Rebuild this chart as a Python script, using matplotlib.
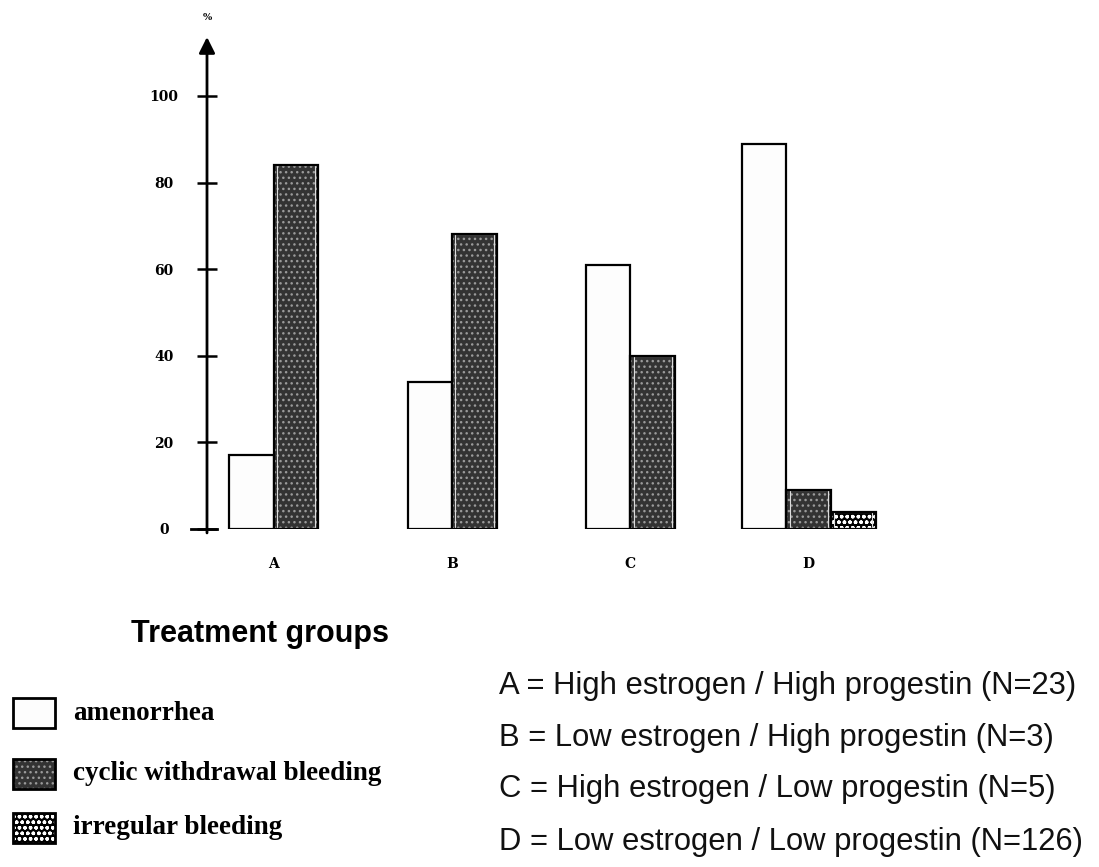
import numpy as np
import matplotlib.pyplot as plt
from matplotlib.patches import Rectangle

# Values (%)
groups = ["A", "B", "C", "D"]
amenorrhea = [17, 34, 61, 89]
cyclic = [84, 68, 40, 9]
irregular = [0, 0, 0, 4]
series_names = ["amenorrhea", "cyclic withdrawal bleeding", "irregular bleeding"]
yticks = [0, 20, 40, 60, 80, 100]
descriptions = [
    "A = High estrogen / High progestin (N=23)",
    "B = Low estrogen / High progestin (N=3)",
    "C = High estrogen / Low progestin (N=5)",
    "D = Low estrogen / Low progestin (N=126)",
]

W, H = 1099, 867
fig = plt.figure(figsize=(W / 100, H / 100), dpi=100)


def fx(px):
    return px / W


def fy(py):
    return 1 - py / H


ax = fig.add_axes([fx(207), fy(529), fx(900) - fx(207), fy(37) - fy(529)])
ax.set_xlim(-0.375, 3.512)
ax.set_ylim(0, 113.6)

# bar styles: (face, hatch, hatch colour)
styles = [
    ("#fdfdfd", None, None),
    ("#333333", "...", "#9a9a9a"),
    ("#000000", "ooo", "#ffffff"),
]
width = 0.25
series = [amenorrhea, cyclic, irregular]
x = np.arange(len(groups))

for i in range(len(groups)):
    vals = [s[i] for s in series]
    idx = [k for k, v in enumerate(vals) if v > 0]
    offs = (np.arange(len(idx)) - (len(idx) - 1) / 2) * width
    for k, off in zip(idx, offs):
        face, hatch, hcol = styles[k]
        if hatch:
            ax.bar(x[i] + off, vals[k], width, color=face, hatch=hatch,
                   edgecolor=hcol, linewidth=0)
            ax.bar(x[i] + off, vals[k], width * 0.86, bottom=0,
                   fill=False, edgecolor="#dcdcdc", linewidth=0.8)
            ax.bar(x[i] + off, vals[k], width, fill=False,
                   edgecolor="black", linewidth=1.6)
        else:
            ax.bar(x[i] + off, vals[k], width, color=face,
                   edgecolor="black", linewidth=1.6)

for s in ["top", "right", "bottom", "left"]:
    ax.spines[s].set_visible(False)

# vertical axis with arrow
ax.annotate("", xy=(0, 1.0), xytext=(0, -0.008), xycoords="axes fraction",
            arrowprops=dict(arrowstyle="-|>", lw=2, color="black",
                            mutation_scale=24, shrinkA=0, shrinkB=0))
ax.text(0.0, 1.03, "%", transform=ax.transAxes, ha="center", va="bottom",
        fontsize=7, fontweight="bold", family="DejaVu Serif")
# longer base tick at zero
ax.plot([-0.023, 0.014], [0, 0], color="black", lw=2, clip_on=False,
        transform=ax.get_yaxis_transform())

ax.set_yticks(yticks)
ax.set_yticklabels([str(t) for t in yticks], fontsize=10, fontweight="bold",
                   family="DejaVu Serif")
ax.tick_params(axis="y", direction="inout", length=14, width=1.8, pad=24)
for lab in ax.get_yticklabels():
    lab.set_ha("center")

ax.set_xticks(x)
ax.set_xticklabels(groups, fontsize=10, fontweight="bold", family="DejaVu Serif")
ax.tick_params(axis="x", length=0, pad=20)

# Title below chart
fig.text(fx(260), fy(634), "Treatment groups", ha="center", va="center",
         fontsize=22, fontweight="bold", family="Liberation Sans")

# Legend swatches
rows = [713, 774, 828]
for k, (name, py) in enumerate(zip(series_names, rows)):
    face, hatch, hcol = styles[k]
    r = Rectangle((fx(13), fy(py + 15)), fx(55) - fx(13), fy(py - 15) - fy(py + 15),
                  transform=fig.transFigure, facecolor=face,
                  hatch=hatch, edgecolor=hcol if hatch else "black",
                  linewidth=0 if hatch else 2)
    fig.add_artist(r)
    if hatch:
        fig.add_artist(Rectangle((fx(13), fy(py + 15)), fx(55) - fx(13),
                                 fy(py - 15) - fy(py + 15),
                                 transform=fig.transFigure, fill=False,
                                 edgecolor="black", linewidth=2))
    fig.text(fx(73), fy(py), name, ha="left", va="center", fontsize=19.5,
             fontweight="bold", family="Liberation Serif")

# Group descriptions
for d, py in zip(descriptions, [686, 738, 789, 842]):
    fig.text(fx(499), fy(py), d, ha="left", va="center", fontsize=22.3,
             family="Liberation Sans", color="#111111")

fig.savefig("out.png", dpi=100, facecolor="white")
